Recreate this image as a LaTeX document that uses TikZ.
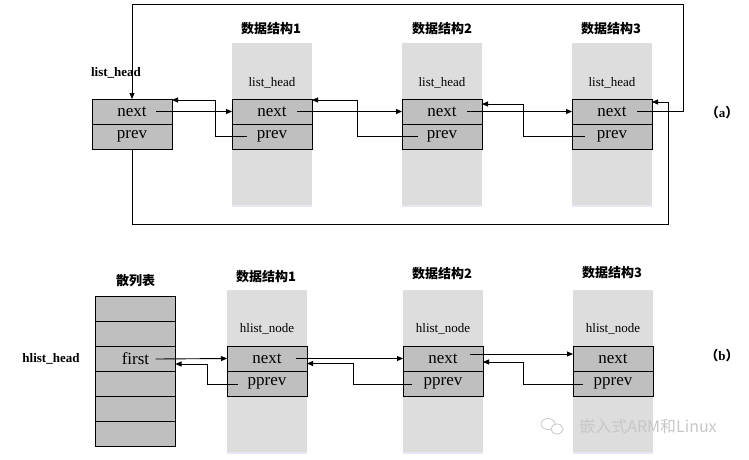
\documentclass[tikz,border=0pt]{standalone}
\usepackage{fontspec}
\setmainfont{Liberation Serif}
\setsansfont{Liberation Sans}
\newfontfamily\cjk{Noto Sans CJK SC}
\usetikzlibrary{arrows.meta,calc,shadows}
\definecolor{bggray}{HTML}{DDDDDD}
\definecolor{cellgray}{HTML}{BFBFBF}
\begin{document}
\begin{tikzpicture}[x=1pt,y=-1pt,
  every node/.style={inner sep=0pt,outer sep=0pt},
  bgbox/.style={fill=bggray,minimum width=80pt,minimum height=162pt,
    drop shadow={shadow xshift=0pt,shadow yshift=-2pt,fill=blue!40!gray!40,opacity=0.35}},
  cell/.style={draw=black,line width=0.9pt,fill=cellgray,minimum width=80pt,minimum height=25pt,font=\fontsize{17}{17}\selectfont},
  title/.style={font=\cjk\bfseries\fontsize{13}{13}\selectfont},
  lab/.style={font=\fontsize{13}{13}\selectfont},
  blab/.style={font=\bfseries\fontsize{13}{13}\selectfont},
  conn/.style={line width=0.9pt,draw=black},
  arr/.style={conn,-{Triangle[length=6pt,width=5pt]}}
]
\useasboundingbox (0,0) rectangle (749,459);

% ---------------- (a) ----------------
\node[bgbox] (d1) at (272,124) {};
\node[bgbox] (d2) at (442,124) {};
\node[bgbox] (d3) at (612,124) {};
\node[title] (t1) at (271,29) {数据结构1};
\node[title] (t2) at (442,29) {数据结构2};
\node[title] (t3) at (611,29) {数据结构3};
\node[lab] (l1) at (272,83) {list\_head};
\node[lab] (l2) at (442,83) {list\_head};
\node[lab] (l3) at (612,83) {list\_head};
\node[blab] (lh) at (116,73) {list\_head};
\node[font=\bfseries\fontsize{13}{13}\selectfont] (ta) at (722,113) {{\cjk（}a{\cjk）}};

\node[cell] (a0n) at (132,111.5) {next};
\node[cell] (a0p) at (132,136.5) {prev};
\node[cell] (a1n) at (272,111.5) {next};
\node[cell] (a1p) at (272,136.5) {prev};
\node[cell] (a2n) at (442,111.5) {next};
\node[cell] (a2p) at (442,136.5) {prev};
\node[cell] (a3n) at (612,111.5) {next};
\node[cell] (a3p) at (612,136.5) {prev};

\draw[arr] ($(a0n.center)+(24,0)$) -- (a1n.west);
\draw[arr] ($(a1n.center)+(25,0)$) -- (a2n.west);
\draw[arr] ($(a2n.center)+(25,0)$) -- (a3n.west);
\draw[arr] ($(a1p.center)+(-25,0)$) -- ++(-32,0) |- ($(a0n.north east)+(0,1)$);
\draw[arr] ($(a2p.center)+(-24,0)$) -- ++(-61,0) |- ($(a1n.north east)+(0,1)$);
\draw[arr] ($(a3p.center)+(-27,0)$) -- ++(-62,0) |- ($(a2n.north east)+(0,5)$);
\draw[arr] ($(a3n.center)+(25,0)$) -- ++(46,0) |- ($(a0n.north)+(0,-95)$) -- (a0n.north);
\draw[arr] (a0p.south) -- ++(0,75) -| ($(a3n.north east)+(16,3)$) -- ($(a3n.north east)+(0,3)$);

% ---------------- (b) ----------------
\node[bgbox] (e1) at (267,371) {};
\node[bgbox] (e2) at (443,371) {};
\node[bgbox] (e3) at (613,371) {};
\node[title] (s0) at (135.5,281) {散列表};
\node[title] (s1) at (266,277) {数据结构1};
\node[title] (s2) at (442,274) {数据结构2};
\node[title] (s3) at (612,273) {数据结构3};
\node[lab] (m1) at (267,329) {hlist\_node};
\node[lab] (m2) at (443,329) {hlist\_node};
\node[lab] (m3) at (613,329) {hlist\_node};
\node[blab] (hh) at (51,359) {hlist\_head};
\node[font=\bfseries\fontsize{13}{13}\selectfont] (tb) at (722,356) {{\cjk（}b{\cjk）}};

\node[cell] (h1) at (135.5,309) {};
\node[cell] (h2) at (135.5,334) {};
\node[cell] (h3) at (135.5,359) {first};
\node[cell] (h4) at (135.5,384) {};
\node[cell] (h5) at (135.5,409) {};
\node[cell] (h6) at (135.5,434) {};

\node[cell] (b1n) at (267,358.5) {next};
\node[cell] (b1p) at (267,383.5) {pprev};
\node[cell] (b2n) at (443,358.5) {next};
\node[cell] (b2p) at (443,383.5) {pprev};
\node[cell] (b3n) at (613,358.5) {next};
\node[cell] (b3p) at (613,383.5) {pprev};

\draw[arr] ($(h3.center)+(20,0)$) -- (b1n.west);
\draw[arr] ($(b1p.center)+(-29,1)$) -- ++(-31,0) |- ($(h3.east)+(0,5)$);
\draw[arr] ($(b1n.center)+(29,0)$) -- (b2n.west);
\draw[arr] ($(b2p.center)+(-31,1)$) -- ++(-59,0) |- ($(b1n.east)+(0,5)$);
\draw[arr] ($(b2n.center)+(27,-4.5)$) -- ($(b3n.west)+(0,-4.5)$);
\draw[arr] ($(b3p.center)+(-30,1)$) -- ++(-60,0) |- ($(b2n.east)+(0,3.5)$);

% watermark
\node[font=\cjk\fontsize{16}{16}\selectfont,text=black!22] (wm) at (648,426) {嵌入式ARM和Linux};
\draw[black!22,line width=0.8pt] (548,424) ellipse (7pt and 5.5pt);
\draw[black!22,line width=0.8pt,fill=white] (557,429) ellipse (6pt and 5pt);
\end{tikzpicture}
\end{document}
